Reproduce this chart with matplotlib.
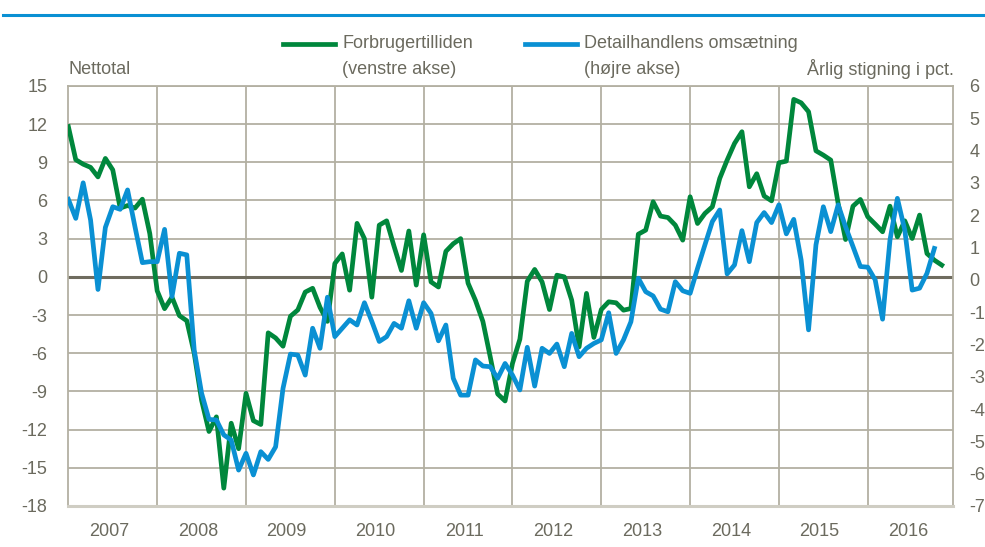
import matplotlib.pyplot as plt
from matplotlib.lines import Line2D

# monthly data, Jan 2007 onwards
forbruger = [11.8, 9.2, 8.85, 8.6, 7.85, 9.3, 8.4, 5.4, 5.6, 5.4, 6.1, 3.4,
             -1.1, -2.5, -1.6, -3.05, -3.45, -6.0, -9.7, -12.15, -11.0, -16.6, -11.5, -13.5,
             -9.15, -11.3, -11.6, -4.4, -4.8, -5.45, -3.1, -2.6, -1.2, -0.9, -2.4, -3.5,
             1.05, 1.8, -1.05, 4.2, 3.0, -1.6, 4.06, 4.4, 2.4, 0.5, 3.6, -0.65,
             3.3, -0.4, -0.8, 2.0, 2.6, 3.0, -0.5, -1.85, -3.5, -6.3, -9.2, -9.75,
             -6.8, -4.9, -0.35, 0.58, -0.4, -2.57, 0.13, 0.0, -1.83, -5.5, -1.3, -4.76,
             -2.57, -1.96, -2.04, -2.62, -2.49, 3.35, 3.67, 5.9, 4.77, 4.66, 4.06, 2.88,
             6.29, 4.19, 4.98, 5.5, 7.73, 9.17, 10.48, 11.4, 7.07, 8.1, 6.35, 5.97,
             8.96, 9.09, 13.94, 13.67, 12.97, 9.9, 9.56, 9.17, 5.76, 2.93, 5.55, 6.08,
             4.72, 4.14, 3.54, 5.55, 3.14, 4.4, 3.01, 4.85, 1.83, 1.31, 0.92]

detail = [2.49, 1.9, 3.0, 1.85, -0.3, 1.62, 2.26, 2.18, 2.78, 1.64, 0.53, 0.56,
          0.56, 1.56, -0.52, 0.82, 0.77, -2.17, -3.51, -4.32, -4.34, -4.8, -4.96, -5.89,
          -5.37, -6.04, -5.32, -5.56, -5.17, -3.36, -2.3, -2.33, -2.95, -1.5, -2.12, -0.54,
          -1.76, -1.5, -1.24, -1.4, -0.71, -1.29, -1.91, -1.76, -1.35, -1.5, -0.65, -1.5,
          -0.71, -1.04, -1.89, -1.4, -3.05, -3.57, -3.57, -2.48, -2.67, -2.69, -3.05, -2.59,
          -2.95, -3.41, -2.09, -3.29, -2.12, -2.28, -1.99, -2.69, -1.66, -2.38, -2.12, -1.97,
          -1.86, -1.02, -2.28, -1.86, -1.3, 0.05, -0.37, -0.5, -0.91, -0.99, -0.06, -0.34,
          -0.42, 0.35, 1.08, 1.8, 2.16, 0.18, 0.46, 1.52, 0.56, 1.77, 2.08, 1.77,
          2.32, 1.42, 1.87, 0.61, -1.55, 1.08, 2.26, 1.49, 2.32, 1.64, 1.03, 0.41,
          0.39, 0.0, -1.22, 1.23, 2.52, 1.54, -0.32, -0.26, 0.2, 0.97]

years = [str(y) for y in range(2007, 2017)]
left_ticks = [15, 12, 9, 6, 3, 0, -3, -6, -9, -12, -15, -18]
right_ticks = [6, 5, 4, 3, 2, 1, 0, -1, -2, -3, -4, -5, -6, -7]

GREEN = '#00873c'
BLUE = '#0a90d3'
TXT = '#6b6a5e'
GRID = '#b3b0a2'
FS = 13

plt.rcParams['font.family'] = ['Liberation Sans', 'DejaVu Sans']
plt.rcParams['axes.unicode_minus'] = False

fig = plt.figure(figsize=(9.85, 5.47), dpi=100)
ax = fig.add_axes([0.0694, 0.075, 0.898, 0.768])

ax.plot(range(len(forbruger)), forbruger, color=GREEN, lw=3.4, zorder=4, solid_joinstyle='round')
ax.set_xlim(0, 119.5)
ax.set_ylim(-18, 15)
ax.set_yticks(left_ticks)
ax.set_yticklabels([str(t) for t in left_ticks])
ax.set_xticks([12 * k for k in range(1, 10)])
ax.set_xticklabels([])
ax.tick_params(length=0, labelsize=FS, labelcolor=TXT, pad=15)
ax.grid(True, color=GRID, lw=1.3, zorder=0)
ax.axhline(0, color='#6f6c5f', lw=2.2, zorder=2)
for s in ['left', 'right', 'top']:
    ax.spines[s].set_color(GRID)
    ax.spines[s].set_linewidth(1.3)
ax.spines['bottom'].set_color('#cfcdc3')
ax.spines['bottom'].set_linewidth(2.2)

for k, y in enumerate(years):
    ax.text(12 * k + 5.5, -19.3, y, ha='center', va='top', fontsize=FS, color=TXT)

ax2 = ax.twinx()
ax2.plot(range(len(detail)), detail, color=BLUE, lw=3.4, zorder=5, solid_joinstyle='round')
ax2.set_ylim(-7, 6)
ax2.set_yticks(right_ticks)
ax2.set_yticklabels([str(t) for t in right_ticks])
ax2.tick_params(length=0, labelsize=FS, labelcolor=TXT, pad=12)
for s in ax2.spines.values():
    s.set_visible(False)

# legend and axis captions
fig.add_artist(Line2D([283 / 985, 335 / 985], [1 - 44 / 547] * 2, color=GREEN, lw=3.4))
fig.text(342 / 985, 1 - 44 / 547, 'Forbrugertilliden', ha='left', va='center', fontsize=FS, color=TXT)
fig.text(342 / 985, 1 - 69 / 547, '(venstre akse)', ha='left', va='center', fontsize=FS, color=TXT)
fig.add_artist(Line2D([525 / 985, 577 / 985], [1 - 44 / 547] * 2, color=BLUE, lw=3.4))
fig.text(584 / 985, 1 - 44 / 547, 'Detailhandlens omsætning', ha='left', va='center', fontsize=FS, color=TXT)
fig.text(584 / 985, 1 - 69 / 547, '(højre akse)', ha='left', va='center', fontsize=FS, color=TXT)
fig.text(68 / 985, 1 - 69 / 547, 'Nettotal', ha='left', va='center', fontsize=FS, color=TXT)
fig.text(954 / 985, 1 - 69 / 547, 'Årlig stigning i pct.', ha='right', va='center', fontsize=FS, color=TXT)

# blue rule under the (cut off) heading
fig.add_artist(Line2D([3 / 985, 1], [1 - 14.5 / 547] * 2, color=BLUE, lw=2.2))

fig.savefig('out.png', dpi=100)
